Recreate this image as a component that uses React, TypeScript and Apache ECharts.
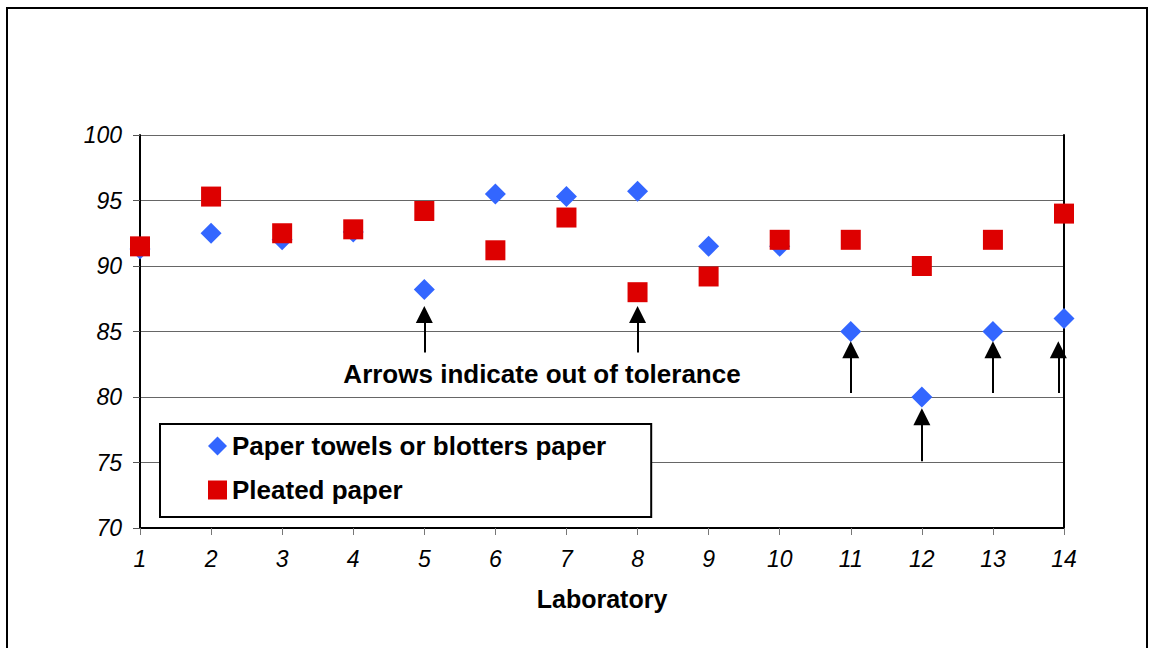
import React, { useEffect, useRef } from "react";
import * as echarts from "echarts";

const laboratories = [1, 2, 3, 4, 5, 6, 7, 8, 9, 10, 11, 12, 13, 14];
const paperTowels = [91.3, 92.5, 92.0, 92.6, 88.2, 95.5, 95.3, 95.7, 91.5, 91.5, 85.0, 80.0, 85.0, 86.0];
const pleatedPaper = [91.5, 95.3, 92.5, 92.8, 94.2, 91.2, 93.7, 88.0, 89.2, 92.0, 92.0, 90.0, 92.0, 94.0];
// arrows: [laboratory position, tail value, head value]
const arrows: [number, number, number][] = [
  [5, 83.4, 86.3],
  [8, 83.4, 86.3],
  [11, 80.3, 83.6],
  [12, 75.1, 78.5],
  [13, 80.3, 83.6],
  [13.92, 80.3, 83.6],
];
const yTicks = { min: 70, max: 100, interval: 5 };
const annotation = "Arrows indicate out of tolerance";
const seriesNames = ["Paper towels or blotters paper", "Pleated paper"];

export default function App() {
  const ref = useRef<HTMLDivElement>(null);
  useEffect(() => {
    const chart = echarts.init(ref.current!, null, { renderer: "svg" });
    const font = "'Liberation Sans', Arial, sans-serif";
    chart.setOption({
      animation: false,
      backgroundColor: "#fff",
      grid: { left: 140, right: 85, top: 135, bottom: 120, containLabel: false },
      xAxis: {
        type: "value",
        min: 1,
        max: 14,
        interval: 1,
        name: "Laboratory",
        nameLocation: "middle",
        nameGap: 58,
        nameTextStyle: { fontFamily: font, fontSize: 25, fontWeight: "bold", color: "#000" },
        axisLine: { show: true, onZero: false, lineStyle: { color: "#000", width: 2 } },
        axisTick: { show: true, length: 7, lineStyle: { color: "#777", width: 1 } },
        axisLabel: { margin: 19, fontFamily: font, fontSize: 23, fontStyle: "italic", color: "#000" },
        splitLine: { show: false },
      },
      yAxis: [
        {
          type: "value",
          min: yTicks.min,
          max: yTicks.max,
          interval: yTicks.interval,
          axisLine: { show: true, lineStyle: { color: "#000", width: 2 } },
          axisTick: { show: true, length: 7, lineStyle: { color: "#555", width: 1 } },
          axisLabel: { margin: 18, fontFamily: font, fontSize: 23, fontStyle: "italic", color: "#000" },
          splitLine: { show: true, lineStyle: { color: "#666", width: 1 } },
        },
        {
          type: "value",
          position: "right",
          min: yTicks.min,
          max: yTicks.max,
          interval: yTicks.interval,
          axisLine: { show: true, lineStyle: { color: "#000", width: 2 } },
          axisTick: { show: false },
          axisLabel: { show: false },
          splitLine: { show: false },
        },
      ],
      legend: {
        data: [
          { name: seriesNames[0], icon: "diamond" },
          { name: seriesNames[1], icon: "rect" },
        ],
        orient: "vertical",
        left: 160,
        top: 424,
        padding: [9, 45, 14, 48],
        itemGap: 18,
        itemWidth: 19,
        itemHeight: 19,
        borderColor: "#000",
        borderWidth: 2,
        backgroundColor: "#fff",
        selectedMode: false,
        textStyle: { fontFamily: font, fontSize: 26, fontWeight: "bold", color: "#000", lineHeight: 24, padding: [0, 0, 0, 0] },
      },
      graphic: [
        {
          type: "rect",
          shape: { x: 7, y: 8, width: 1140, height: 660 },
          style: { fill: "none", stroke: "#000", lineWidth: 2 },
          silent: true,
        },
        {
          type: "text",
          x: 542,
          y: 374,
          style: {
            text: annotation,
            fontFamily: font,
            fontSize: 26,
            fontWeight: "bold",
            fill: "#000",
            align: "center",
            verticalAlign: "middle",
          },
          silent: true,
        },
      ],
      series: [
        {
          name: seriesNames[0],
          type: "scatter",
          symbol: "diamond",
          symbolSize: 21,
          itemStyle: { color: "#3366FF", opacity: 1 },
          data: laboratories.map((l, i) => [l, paperTowels[i]]),
          z: 3,
        },
        {
          name: seriesNames[1],
          type: "scatter",
          symbol: "rect",
          symbolSize: 20,
          itemStyle: { color: "#DD0000", opacity: 1 },
          data: laboratories.map((l, i) => [l, pleatedPaper[i]]),
          z: 4,
        },
        {
          name: "arrows",
          type: "scatter",
          data: [],
          silent: true,
          markLine: {
            silent: true,
            symbol: ["none", "triangle"],
            symbolSize: 17,
            label: { show: false },
            lineStyle: { color: "#000", width: 2, type: "solid" },
            emphasis: { disabled: true },
            data: arrows.map(([x, y0, y1]) => [{ coord: [x, y0] }, { coord: [x, y1] }]),
          },
        },
      ],
    });
    return () => chart.dispose();
  }, []);
  return (
    <div
      ref={ref}
      style={{ position: "fixed", left: 0, top: 0, width: 1149, height: 648 }}
    />
  );
}
